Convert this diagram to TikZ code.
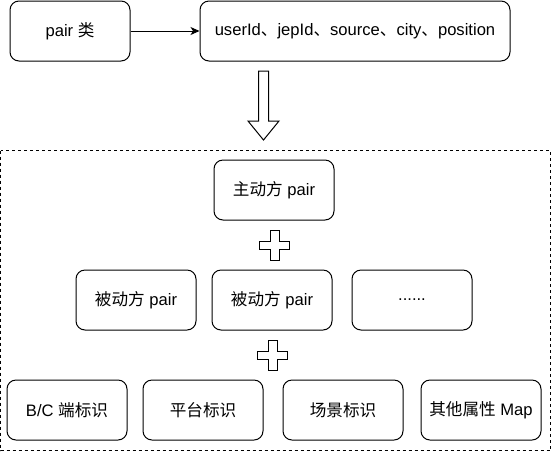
\documentclass[tikz,border=0pt]{standalone}
\usepackage{fontspec}
\setmainfont{Liberation Sans}
\newfontfamily\cjk{Noto Sans CJK SC}
\usepackage{tikz}
\usetikzlibrary{positioning, arrows.meta}
\tikzstyle{canvas} = [x = 1pt, y = -1pt]
\tikzstyle{boxStyle} = [draw, rounded corners = 9pt, line width = 1pt, minimum width = 120pt, minimum height = 60pt, inner sep = 0pt, font = \fontsize{16.6}{19}\selectfont]
\tikzstyle{wideBoxStyle} = [boxStyle, minimum width = 310pt]
\tikzstyle{groupStyle} = [draw, line width = 1pt, dash pattern = on 3pt off 3pt]
\tikzstyle{plusStyle} = [draw, fill = white, line width = 1pt]
\tikzstyle{linkStyle} = [line width = 1pt, -{Stealth[length = 9pt, width = 8pt, inset = 2.5pt]}]
\newcommand{\plusSign}[2]{\draw [plusStyle] (#1 - 4.5, #2 - 15) -- (#1 + 4.5, #2 - 15) -- (#1 + 4.5, #2 - 4) -- (#1 + 15, #2 - 4) -- (#1 + 15, #2 + 4) -- (#1 + 4.5, #2 + 4) -- (#1 + 4.5, #2 + 15) -- (#1 - 4.5, #2 + 15) -- (#1 - 4.5, #2 + 4) -- (#1 - 15, #2 + 4) -- (#1 - 15, #2 - 4) -- (#1 - 4.5, #2 - 4) -- cycle;}
\newcommand{\hollowArrow}[3]{\draw [plusStyle] (#1 - 5, #2) -- (#1 + 5, #2) -- (#1 + 5, #3 - 19) -- (#1 + 15.5, #3 - 19) -- (#1, #3) -- (#1 - 15.5, #3 - 19) -- (#1 - 5, #3 - 19) -- cycle;}
\begin{document}
\begin{tikzpicture}[canvas]
  \useasboundingbox (0, 0) rectangle (551, 451);
  \node [boxStyle] (pairNode) at (70, 31) {pair {\cjk 类}};
  \node [wideBoxStyle] (fieldNode) at (355, 31) {userId{\cjk 、}jepId{\cjk 、}source{\cjk 、}city{\cjk 、}position};
  \draw [linkStyle] (pairNode) -- (fieldNode);
  \hollowArrow{263.5}{71}{140}

  \draw [groupStyle] (0.5, 150.5) rectangle (550.5, 450.5);
  \node [boxStyle] (activeNode) at (274, 190) {{\cjk 主动方} pair};
  \plusSign{274.5}{245}
  \node [boxStyle] (passiveOne) at (136, 300) {{\cjk 被动方} pair};
  \node [boxStyle] (passiveTwo) at (272, 300) {{\cjk 被动方} pair};
  \node [boxStyle] (moreNode) at (412, 300) {......};
  \plusSign{272.5}{355}
  \node [boxStyle] (clientNode) at (67, 410) {B/C {\cjk 端标识}};
  \node [boxStyle] (platformNode) at (203, 410) {{\cjk 平台标识}};
  \node [boxStyle] (sceneNode) at (343, 410) {{\cjk 场景标识}};
  \node [boxStyle] (extraNode) at (481, 410) {{\cjk 其他属性} Map};
\end{tikzpicture}
\end{document}
